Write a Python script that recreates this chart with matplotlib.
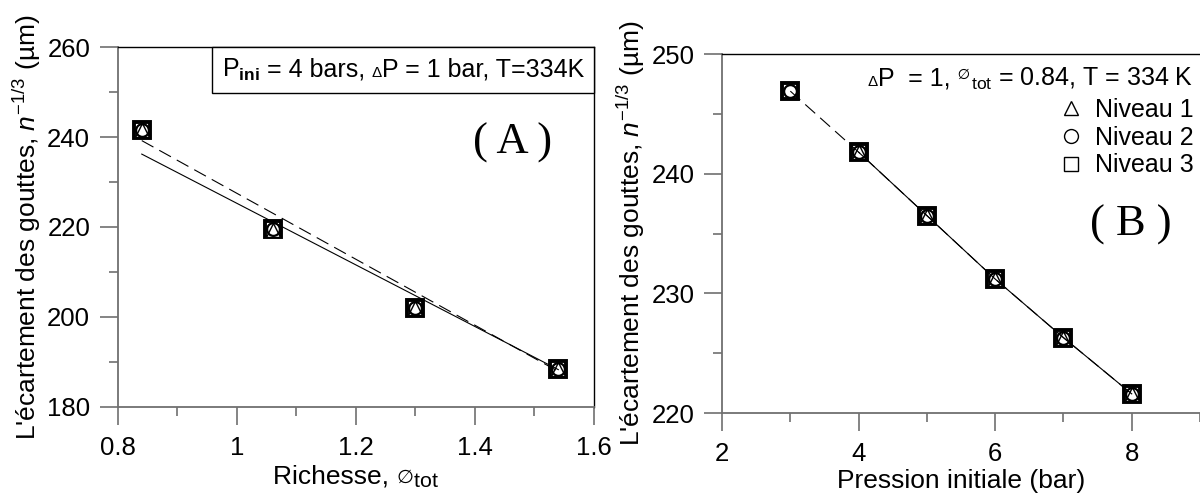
import matplotlib
matplotlib.use("Agg")
import matplotlib.pyplot as plt
from matplotlib.lines import Line2D
from matplotlib.offsetbox import TextArea, HPacker, AnchoredOffsetbox
from matplotlib.ticker import MultipleLocator, FuncFormatter

plt.rcParams['font.family'] = ['Liberation Sans', 'DejaVu Sans']
plt.rcParams['mathtext.fontset'] = 'custom'
plt.rcParams['mathtext.rm'] = 'Liberation Sans'
plt.rcParams['mathtext.it'] = 'Liberation Sans:italic'
plt.rcParams['mathtext.bf'] = 'Liberation Sans:bold'
plt.rcParams['mathtext.default'] = 'regular'

# ---------------- data ----------------
# Panel A : richesse
richesse = [0.84, 1.06, 1.30, 1.54]
ecart_A_n1 = [241.5, 219.4, 202.1, 188.4]
ecart_A_n2 = [241.6, 219.5, 202.0, 188.5]
ecart_A_n3 = [241.5, 219.5, 202.0, 188.4]
fitA_x = [0.84, 1.54]
fitA_solid = [236.2, 188.3]
fitA_dashed = [239.2, 187.9]

# Panel B : pression initiale
pression_n1 = [4, 5, 6, 7, 8]
ecart_B_n1 = [241.8, 236.5, 231.2, 226.3, 221.6]
pression_n2 = [3, 4, 5, 6, 7, 8]
ecart_B_n2 = [246.9, 241.8, 236.5, 231.2, 226.3, 221.6]
pression_n3 = [3, 4, 5, 6, 7, 8]
ecart_B_n3 = [246.9, 241.8, 236.5, 231.2, 226.3, 221.6]

legend_labels = ["Niveau 1", "Niveau 2", "Niveau 3"]

TICK_FS = 18.5
LABEL_FS = 19
TEXT_FS = 18

# ---------------- figure ----------------
fig = plt.figure(figsize=(12, 4.99), dpi=100)
axA = fig.add_axes([0.0983, 0.1844, 0.3967, 0.7214])
axB = fig.add_axes([0.6017, 0.1723, 0.3983, 0.7194])

spine_grey = '#707070'


def style_axes(ax):
    for s in ['left', 'bottom']:
        ax.spines[s].set_color(spine_grey)
        ax.spines[s].set_linewidth(1.3)
    for s in ['top', 'right']:
        ax.spines[s].set_color('black')
        ax.spines[s].set_linewidth(1.0)
    ax.tick_params(which='major', direction='out', length=13, width=1.2,
                   color=spine_grey, labelsize=TICK_FS, top=False, right=False)
    ax.tick_params(which='minor', direction='out', length=6.5, width=1.2,
                   color=spine_grey, top=False, right=False)
    ax.tick_params(axis='y', which='major', pad=7)
    ax.tick_params(axis='x', which='major', pad=8)


def draw_markers(ax, x1, y1, x2, y2, x3, y3):
    # Niveau 3 : squares
    ax.plot(x3, y3, linestyle='none', marker='s', ms=11.2, mew=2.8,
            mfc='white', mec='black', zorder=3)
    # Niveau 1 : triangles
    ax.plot(x1, y1, linestyle='none', marker='^', ms=9.5, mew=1.0,
            mfc='white', mec='black', zorder=4)
    # Niveau 2 : circles
    ax.plot(x2, y2, linestyle='none', marker='o', ms=9.2, mew=1.6,
            mfc='none', mec='black', zorder=5)


def fmt(v, pos):
    return '%g' % v


def packed_label(ax, parts, xy, loc):
    areas = [TextArea(t, textprops=dict(fontsize=fs)) for t, fs in parts]
    pack = HPacker(children=areas, align='baseline', pad=0, sep=0)
    box = AnchoredOffsetbox(loc=loc, child=pack, pad=0, borderpad=0,
                            frameon=False, bbox_to_anchor=xy,
                            bbox_transform=ax.transAxes)
    box.set_clip_on(False)
    ax.add_artist(box)
    return box

# ---------------- Panel A ----------------
style_axes(axA)
draw_markers(axA, richesse, ecart_A_n1, richesse, ecart_A_n2, richesse, ecart_A_n3)
axA.plot(fitA_x, fitA_solid, color='black', lw=0.8, zorder=6)
axA.plot(fitA_x, fitA_dashed, color='black', lw=0.8, dashes=(12, 6), zorder=6)
axA.set_xlim(0.8, 1.6)
axA.set_ylim(180, 260)
axA.xaxis.set_major_locator(MultipleLocator(0.2))
axA.xaxis.set_minor_locator(MultipleLocator(0.1))
axA.yaxis.set_major_locator(MultipleLocator(20))
axA.yaxis.set_minor_locator(MultipleLocator(10))
axA.xaxis.set_major_formatter(FuncFormatter(fmt))
axA.set_ylabel(r"L'écartement des gouttes, $\mathit{n}^{\mathit{-1/3}}$ (µm)",
               fontsize=LABEL_FS, labelpad=3)
packed_label(axA, [("Richesse,\u00a0", LABEL_FS), ("∅", 14), (r"$_{tot}$", 22)],
             (0.5, -0.19), 'center')
axA.text(0.828, 0.733, "( A )", transform=axA.transAxes, ha='center', va='center',
         fontsize=32, family='Liberation Serif')

tA1 = TextArea("P$_{\\mathbf{ini}}$", textprops=dict(fontsize=TEXT_FS))
tA1b = TextArea(" = 4 bars,\u00a0", textprops=dict(fontsize=TEXT_FS))
tA2 = TextArea("Δ", textprops=dict(fontsize=11))
tA3 = TextArea("P = 1 bar, T=334K", textprops=dict(fontsize=TEXT_FS))
packA = HPacker(children=[tA1, tA1b, tA2, tA3], align='baseline', pad=0, sep=0)
boxA = AnchoredOffsetbox(loc='upper right', child=packA, pad=0.7, borderpad=0,
                         frameon=True, bbox_to_anchor=(1, 1),
                         bbox_transform=axA.transAxes)
boxA.patch.set_boxstyle('square', pad=0)
boxA.patch.set_edgecolor('black')
boxA.patch.set_linewidth(1.0)
axA.add_artist(boxA)

# ---------------- Panel B ----------------
style_axes(axB)
axB.spines['right'].set_visible(False)
draw_markers(axB, pression_n1, ecart_B_n1, pression_n2, ecart_B_n2, pression_n3, ecart_B_n3)
axB.plot(pression_n2, ecart_B_n2, color='black', lw=0.8, dashes=(12, 6), zorder=6)
axB.plot(pression_n1, ecart_B_n1, color='black', lw=0.8, zorder=6)
axB.set_xlim(2, 9)
axB.set_ylim(220, 250)
axB.xaxis.set_major_locator(MultipleLocator(2))
axB.xaxis.set_minor_locator(MultipleLocator(1))
axB.yaxis.set_major_locator(MultipleLocator(10))
axB.yaxis.set_minor_locator(MultipleLocator(5))
axB.set_xlabel("Pression initiale (bar)", fontsize=LABEL_FS, labelpad=2)
axB.set_ylabel(r"L'écartement des gouttes, $\mathit{n}^{\mathit{-1/3}}$ (µm)",
               fontsize=LABEL_FS, labelpad=3)
axB.text(0.856, 0.524, "( B )", transform=axB.transAxes, ha='center', va='center',
         fontsize=32, family='Liberation Serif')

packed_label(axB, [("Δ", 11), ("P  = 1,\u00a0", TEXT_FS), (r"$^{∅}$", 16),
                   (r"$_{tot}$ = 0.84, T = 334 K", TEXT_FS)],
             (0.985, 0.968), 'upper right')

handles = [Line2D([], [], linestyle='none', marker='^', ms=10, mfc='white', mec='black', mew=1),
           Line2D([], [], linestyle='none', marker='o', ms=10, mfc='white', mec='black', mew=1),
           Line2D([], [], linestyle='none', marker='s', ms=9.5, mfc='white', mec='black', mew=1)]
axB.legend(handles, legend_labels, loc='upper right', bbox_to_anchor=(0.987, 0.878),
           frameon=False, fontsize=TEXT_FS, handlelength=0.8, handletextpad=0.55,
           labelspacing=0.15, borderpad=0, borderaxespad=0)

fig.savefig("out.png", dpi=100)
